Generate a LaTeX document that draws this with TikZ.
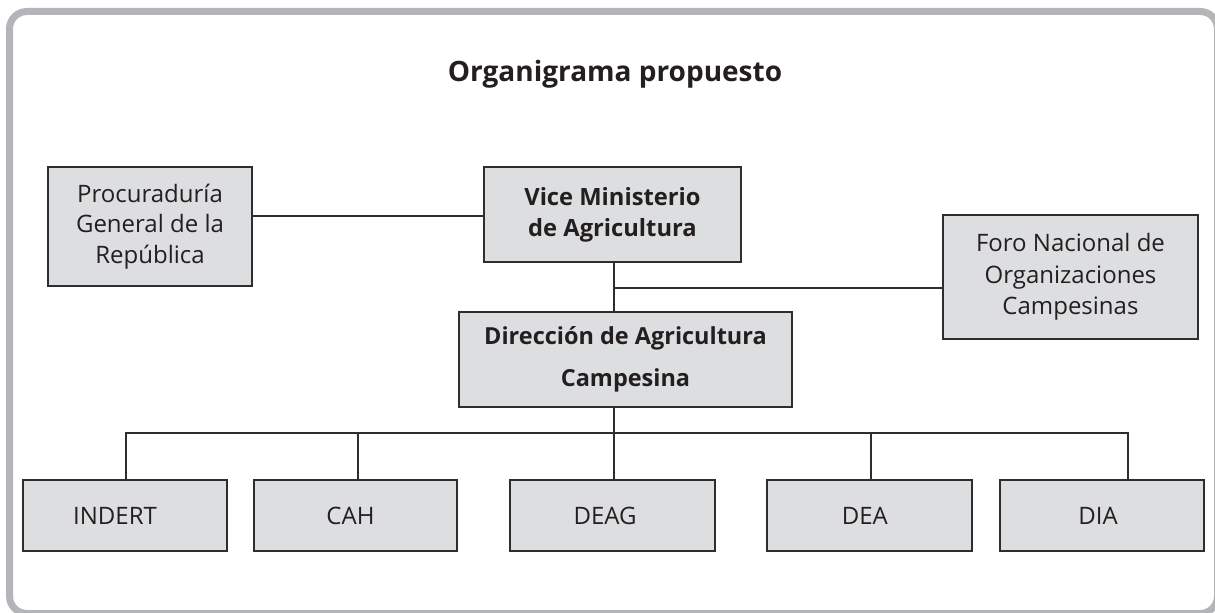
\documentclass[tikz,border=0pt]{standalone}
\usepackage{fontspec}
\setmainfont{Open Sans}
\definecolor{framegray}{HTML}{B4B5B9}
\definecolor{boxfill}{HTML}{DDDEE0}
\definecolor{boxline}{HTML}{2E2E2E}
\definecolor{txt}{HTML}{231F20}
\begin{document}
\begin{tikzpicture}[x=0.75pt,y=-0.75pt,
  box/.style={draw=boxline, fill=boxfill, line width=1.5pt, inner sep=0pt, text=txt, align=center},
  reg/.style={font=\fontsize{18}{22.9}\selectfont},
  bld/.style={font=\fontsize{17.8}{23.25}\selectfont\bfseries},
  small/.style={font=\fontsize{18}{22}\selectfont},
  conn/.style={draw=boxline, line width=1.5pt},
  lowbox/.style={box, minimum height=53.25pt}
]
\useasboundingbox (0,0) rectangle (1215,613);
\fill[white] (0,0) rectangle (1215,613);
% frame
\draw[framegray, line width=5.25pt, rounded corners=13pt] (9.5,11.5) rectangle (1217.5,613.5);
% title
\node[anchor=base, text=txt, font=\fontsize{21}{24}\selectfont\bfseries] (title) at (615,82) {Organigrama propuesto};
% boxes
\node[box, reg, minimum width=153pt, minimum height=89.25pt] (proc) at (150,226.5) {Procuradur\'ia\\General de la\\Rep\'ublica};
\node[box, bld, minimum width=192.75pt, minimum height=71.25pt] (vice) at (612.5,214.5) {Vice Ministerio\\de Agricultura};
\node[box, font=\fontsize{18}{23.6}\selectfont, minimum width=191.25pt, minimum height=93pt] (foro) at (1070.5,277) {Foro Nacional de\\Organizaciones\\Campesinas};
\node[box, font=\fontsize{17.6}{31.5}\selectfont\bfseries, minimum width=249.75pt, minimum height=71.25pt] (dir) at (625.5,359.5) {Direcci\'on de Agricultura\\Campesina};
% bottom row
\node[lowbox, minimum width=153pt, label={[small, text=txt, xshift=-7.5pt]center:INDERT}] (indert) at (125,515.5) {};
\node[lowbox, minimum width=152.25pt, label={[small, text=txt, xshift=-3.75pt]center:CAH}] (cah) at (355.5,515.5) {};
\node[lowbox, minimum width=153.75pt, label={[small, text=txt, xshift=-5.5pt]center:DEAG}] (deag) at (612.5,515.5) {};
\node[lowbox, minimum width=153.75pt, label={[small, text=txt, xshift=-3.5pt]center:DEA}] (dea) at (869.5,515.5) {};
\node[lowbox, minimum width=153pt, label={[small, text=txt, xshift=-3pt]center:DIA}] (dia) at (1102,515.5) {};
% connector coordinates
\coordinate (pv) at (0,216);
\coordinate (vx) at (614,0);
\coordinate (fy) at (0,288);
\coordinate (b1) at (126,433);
\coordinate (b2) at (358,433);
\coordinate (b4) at (871,433);
\coordinate (b5) at (1128,433);
% connectors
\draw[conn] (proc.east |- pv) -- (vice.west |- pv);
\draw[conn] (vice.south -| vx) -- (dir.north -| vx);
\draw[conn] (vx |- fy) -- (foro.west |- fy);
\draw[conn] (dir.south -| vx) -- (deag.north -| vx);
\draw[conn] (b1 |- indert.north) -- (b1) -- (b5) -- (b5 |- dia.north);
\draw[conn] (b2) -- (b2 |- cah.north);
\draw[conn] (b4) -- (b4 |- dea.north);
\end{tikzpicture}
\end{document}
